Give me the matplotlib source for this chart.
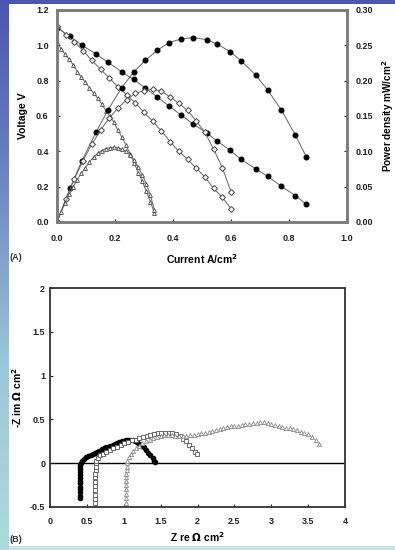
import numpy as np
import matplotlib
matplotlib.use("Agg")
import matplotlib.pyplot as plt
from matplotlib.colors import LinearSegmentedColormap

plt.rcParams['font.family'] = ['Liberation Sans', 'DejaVu Sans']
plt.rcParams['font.weight'] = 'bold'

# ---------------- Panel A data ----------------
I1 = [0.0, 0.045, 0.086, 0.136, 0.175, 0.223, 0.264, 0.305, 0.346, 0.387, 0.428, 0.47,
      0.516, 0.551, 0.598, 0.635, 0.685, 0.726, 0.773, 0.822, 0.86]
V1 = [1.10, 1.05, 1.00, 0.95, 0.905, 0.85, 0.807, 0.758, 0.707, 0.655, 0.606, 0.554,
      0.505, 0.459, 0.405, 0.354, 0.301, 0.259, 0.203, 0.149, 0.10]
P1 = [0.0, 0.048, 0.087, 0.128, 0.158, 0.19, 0.212, 0.229, 0.243, 0.254, 0.259, 0.261,
      0.258, 0.252, 0.241, 0.228, 0.208, 0.187, 0.159, 0.123, 0.092]

I2 = [0.0, 0.03, 0.06, 0.09, 0.12, 0.15, 0.18, 0.21, 0.24, 0.27, 0.30, 0.33, 0.36, 0.39,
      0.42, 0.45, 0.48, 0.51, 0.54, 0.57, 0.60]
V2 = [1.11, 1.06, 1.02, 0.97, 0.915, 0.865, 0.815, 0.765, 0.72, 0.675, 0.62, 0.57, 0.515,
      0.455, 0.40, 0.355, 0.305, 0.255, 0.19, 0.14, 0.075]
P2 = [0.0, 0.032, 0.061, 0.087, 0.11, 0.13, 0.147, 0.161, 0.173, 0.182, 0.186, 0.188,
      0.185, 0.177, 0.168, 0.158, 0.143, 0.127, 0.103, 0.077, 0.043]

I3 = [0.0, 0.014, 0.028, 0.042, 0.056, 0.07, 0.084, 0.098, 0.112, 0.126, 0.14, 0.154,
      0.168, 0.182, 0.196, 0.21, 0.224, 0.238, 0.252, 0.266, 0.28, 0.294, 0.308, 0.322, 0.336]
V3 = [1.02, 0.98, 0.95, 0.92, 0.89, 0.85, 0.82, 0.79, 0.76, 0.73, 0.70, 0.67, 0.63, 0.60,
      0.565, 0.52, 0.48, 0.435, 0.385, 0.335, 0.28, 0.23, 0.175, 0.115, 0.05]
P3 = [0.0, 0.014, 0.027, 0.039, 0.05, 0.06, 0.069, 0.077, 0.085, 0.092, 0.097, 0.101,
      0.104, 0.105, 0.106, 0.105, 0.103, 0.1, 0.095, 0.088, 0.078, 0.067, 0.054, 0.038, 0.017]

xticks_A = [0.0, 0.2, 0.4, 0.6, 0.8, 1.0]
yticks_A = [0.0, 0.2, 0.4, 0.6, 0.8, 1.0, 1.2]
pticks_A = [0.00, 0.05, 0.10, 0.15, 0.20, 0.25, 0.30]

# ---------------- Panel B data ----------------
Zre1 = [0.40, 0.40, 0.40, 0.40, 0.40, 0.40, 0.40, 0.40, 0.41, 0.41, 0.41, 0.41, 0.41,
        0.42, 0.44, 0.46, 0.49, 0.52, 0.55, 0.58, 0.61, 0.64, 0.67, 0.70, 0.73, 0.76, 0.79,
        0.82, 0.85, 0.88, 0.91, 0.94, 0.97, 1.00, 1.03, 1.06, 1.09, 1.12, 1.15, 1.18, 1.21,
        1.24, 1.27, 1.30, 1.33, 1.36, 1.39, 1.41, 1.43]
Zim1 = [-0.40, -0.37, -0.33, -0.30, -0.27, -0.23, -0.20, -0.17, -0.13, -0.10, -0.07, -0.04,
        -0.02, 0.0, 0.03, 0.05, 0.07, 0.08, 0.09, 0.10, 0.12, 0.13, 0.14, 0.16, 0.17, 0.18,
        0.19, 0.20, 0.21, 0.22, 0.23, 0.24, 0.25, 0.255, 0.26, 0.265, 0.265, 0.26, 0.25, 0.24,
        0.22, 0.20, 0.18, 0.15, 0.12, 0.09, 0.06, 0.03, 0.01]

Zre2 = [0.61, 0.61, 0.61, 0.61, 0.61, 0.61, 0.61, 0.61, 0.62, 0.62, 0.62, 0.63, 0.65, 0.68,
        0.72, 0.76, 0.81, 0.86, 0.91, 0.96, 1.01, 1.06, 1.11, 1.16, 1.21, 1.26, 1.31, 1.36,
        1.41, 1.46, 1.51, 1.56, 1.61, 1.66, 1.71, 1.76, 1.80, 1.84, 1.88, 1.92, 1.96, 1.99]
Zim2 = [-0.46, -0.41, -0.36, -0.31, -0.26, -0.21, -0.16, -0.12, -0.08, -0.04, 0.0, 0.03,
        0.06, 0.09, 0.11, 0.13, 0.15, 0.17, 0.19, 0.21, 0.23, 0.24, 0.26, 0.27, 0.29, 0.30,
        0.31, 0.32, 0.33, 0.34, 0.35, 0.35, 0.35, 0.34, 0.33, 0.31, 0.28, 0.25, 0.21, 0.17,
        0.13, 0.10]

Zre3 = [1.03, 1.03, 1.03, 1.03, 1.03, 1.03, 1.03, 1.03, 1.04, 1.04, 1.04, 1.05, 1.07, 1.10,
        1.13, 1.17, 1.21, 1.25, 1.30, 1.35, 1.40, 1.45, 1.50, 1.55, 1.60, 1.65, 1.70, 1.75,
        1.80, 1.85, 1.90, 1.95, 2.00, 2.05, 2.10, 2.15, 2.20, 2.25, 2.30, 2.35, 2.40, 2.45,
        2.50, 2.55, 2.60, 2.65, 2.70, 2.75, 2.80, 2.85, 2.90, 2.95, 3.00, 3.05, 3.10, 3.15,
        3.20, 3.25, 3.30, 3.35, 3.40, 3.45, 3.50, 3.55, 3.60, 3.65]
Zim3 = [-0.45, -0.40, -0.35, -0.30, -0.25, -0.20, -0.16, -0.12, -0.08, -0.04, 0.0, 0.03,
        0.07, 0.11, 0.14, 0.17, 0.20, 0.23, 0.25, 0.27, 0.29, 0.30, 0.31, 0.32, 0.32, 0.32,
        0.31, 0.31, 0.31, 0.31, 0.32, 0.32, 0.33, 0.34, 0.35, 0.36, 0.37, 0.38, 0.39, 0.40,
        0.41, 0.42, 0.43, 0.43, 0.44, 0.45, 0.45, 0.46, 0.46, 0.47, 0.47, 0.46, 0.45, 0.44,
        0.42, 0.41, 0.40, 0.40, 0.39, 0.38, 0.36, 0.35, 0.33, 0.30, 0.26, 0.22]

xticks_B = [0, 0.5, 1, 1.5, 2, 2.5, 3, 3.5, 4]
xticklabels_B = ['0', '0.5', '1', '1.5', '2', '2.5', '3', '3.5', '4']
yticks_B = [-0.5, 0, 0.5, 1, 1.5, 2]
yticklabels_B = ['-0.5', '0', '0.5', '1', '1.5', '2']

W, H = 395, 550
fig = plt.figure(figsize=(W / 100, H / 100), dpi=100)
fig.patch.set_facecolor('white')

# ---- slide background (blue top band and left gradient strip) ----
bg = fig.add_axes([0, 0, 1, 1], zorder=-10)
bg.set_xlim(0, W)
bg.set_ylim(H, 0)
bg.axis('off')
cmap = LinearSegmentedColormap.from_list('slide', ['#4b56b0', '#6f86c4', '#9cc7d8', '#aedadc'])
grad = np.linspace(0, 1, 256).reshape(-1, 1)
bg.imshow(grad, cmap=cmap, aspect='auto', extent=[0, 9, H, 0])
bg.add_patch(plt.Rectangle((0, 0), W, 4, color='#4b56b0', lw=0))
bg.add_patch(plt.Rectangle((9, 546), W, 4, color='#c8e4e6', lw=0))

# ---------------- Panel A ----------------
axA = fig.add_axes([57 / W, 1 - 222 / H, 290 / W, 212 / H])
axP = axA.twinx()
line_kw = dict(color='#666666', lw=0.7)
circ = dict(marker='o', ms=3.3, mfc='black', mec='black')
diam = dict(marker='D', ms=3.0, mfc='white', mec='#444444', mew=0.7)
tri = dict(marker='^', ms=2.8, mfc='white', mec='#444444', mew=0.6)
axA.plot(I1, V1, **circ, **line_kw)
axA.plot(I2, V2, **diam, **line_kw)
axA.plot(I3, V3, **tri, **line_kw)
axP.plot(I1, P1, **circ, **line_kw)
axP.plot(I2, P2, **diam, **line_kw)
axP.plot(I3, P3, **tri, **line_kw)

axA.set_xlim(0, 1.0)
axA.set_ylim(0, 1.2)
axP.set_ylim(0, 0.30)
axA.set_xticks(xticks_A)
axA.set_xticklabels(['%.1f' % v for v in xticks_A])
axA.set_yticks(yticks_A)
axA.set_yticklabels(['%.1f' % v for v in yticks_A])
axP.set_yticks(pticks_A)
axP.set_yticklabels(['%.2f' % v for v in pticks_A])
for ax in (axA, axP):
    for s in ax.spines.values():
        s.set_color('#7a7a7a')
        s.set_linewidth(1.8)
    ax.tick_params(direction='in', length=2.5, width=0.8, labelsize=6.5, colors='#222222')
axA.tick_params(axis='x', pad=9)
axA.tick_params(axis='y', pad=6)
axP.tick_params(axis='y', pad=6)
axA.set_ylabel('Voltage V', fontsize=7.5, fontweight='bold', labelpad=6)
axP.set_ylabel('Power density mW/cm$^\\mathbf{2}$', fontsize=7.2, fontweight='bold', labelpad=5)
axA.set_xlabel('Current A/cm$^\\mathbf{2}$', fontsize=7.5, fontweight='bold', labelpad=6)
fig.text(10 / W, 1 - 258 / H, '(A)', fontsize=6.5, va='center', ha='left', color='#333333')

# ---------------- Panel B ----------------
axB = fig.add_axes([50 / W, 1 - 507 / H, 295 / W, 219 / H])
axB.plot(Zre1, Zim1, linestyle='none', marker='o', ms=3.0, mfc='black', mec='black')
axB.plot(Zre2, Zim2, linestyle='none', marker='s', ms=3.0, mfc='white', mec='#555555', mew=0.6)
axB.plot(Zre3, Zim3, linestyle='none', marker='^', ms=3.0, mfc='white', mec='#888888', mew=0.6)
axB.axhline(0, color='black', lw=1.0, zorder=1)
axB.set_xlim(0, 4)
axB.set_ylim(-0.5, 2)
axB.set_xticks(xticks_B)
axB.set_xticklabels(xticklabels_B)
axB.set_yticks(yticks_B)
axB.set_yticklabels(yticklabels_B)
for s in axB.spines.values():
    s.set_color('#333333')
    s.set_linewidth(1.3)
axB.tick_params(direction='in', length=2.5, width=0.8, labelsize=6.5, colors='#222222')
axB.tick_params(axis='x', pad=7)
axB.set_ylabel('-Z im $\\Omega$ cm$^\\mathbf{2}$', fontsize=7.5, fontweight='bold', labelpad=4)
axB.set_xlabel('Z re $\\Omega$ cm$^\\mathbf{2}$', fontsize=7.5, fontweight='bold', labelpad=3)
fig.text(10 / W, 1 - 539 / H, '(B)', fontsize=6.5, va='center', ha='left', color='#333333')

fig.savefig('out.png', dpi=100, facecolor=fig.get_facecolor())
